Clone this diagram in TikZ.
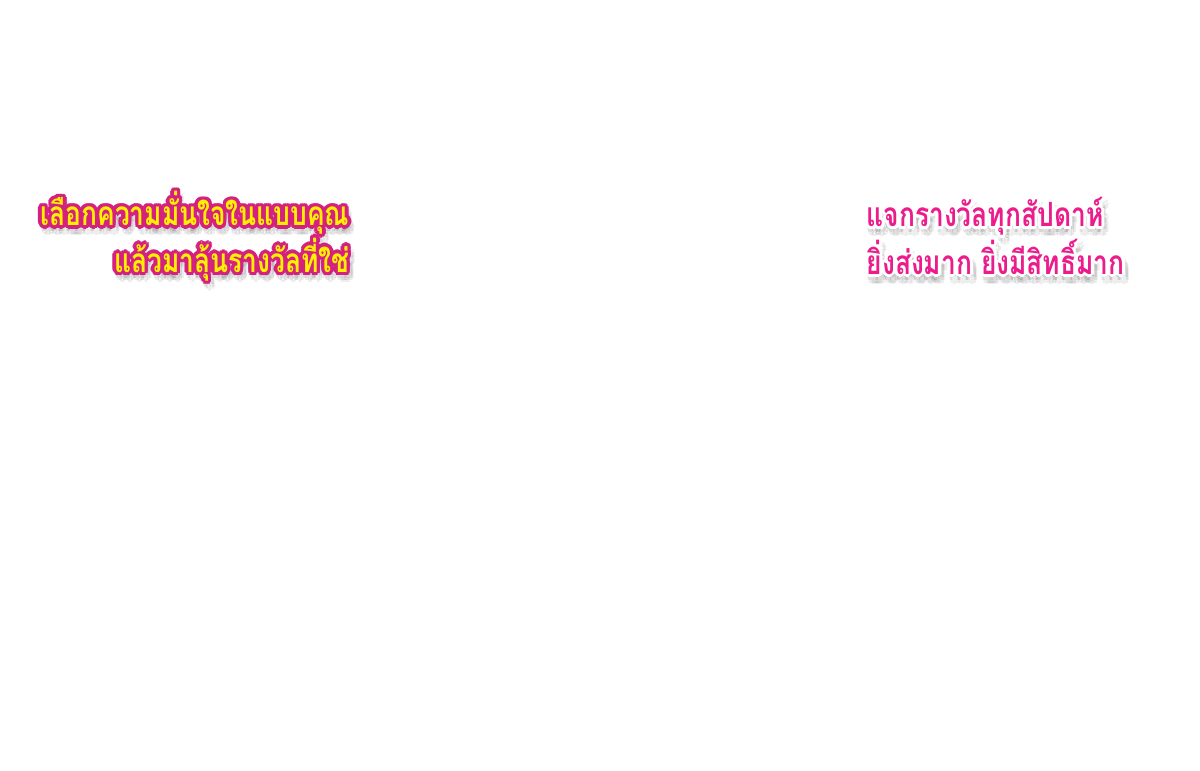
\documentclass[tikz,border=0pt]{standalone}
\usepackage{fontspec}
\newfontfamily\thaifont[Script=Thai,FakeStretch=0.79]{Loma}
\definecolor{promoyellow}{HTML}{FFF000}
\definecolor{promomagenta}{HTML}{D4207F}
\definecolor{promopink}{HTML}{EC1C8C}
\newcommand{\prizeleft}{เลือกความมั่นใจในแบบคุณ\\แล้วมาลุ้นรางวัลที่ใช่}
\newcommand{\prizeright}{แจกรางวัลทุกสัปดาห์\\ยิ่งส่งมาก ยิ่งมีสิทธิ์มาก}
\tikzset{
  slogan/.style={font=\thaifont\bfseries\fontsize{9.5}{9.8}\selectfont, inner sep=0pt},
  haze/.style={slogan, text=black, opacity=0.07},
}
\begin{document}
\begin{tikzpicture}
    \useasboundingbox[fill=white] (0,0) rectangle (12,7.7);
    %slogan sinistra
    \foreach \a in {0,45,...,315}{
        \node[haze, align=right, anchor=east] (lshadow\a) at ([shift={(\a:0.04)}] 3.53,5.28) {\prizeleft};
    }
    \foreach \a in {0,30,...,330}{
        \node[slogan, align=right, anchor=east, text=promomagenta] (lhalo\a) at ([shift={(\a:0.035)}] 3.5,5.34) {\prizeleft};
    }
    \node[slogan, align=right, anchor=east, text=promoyellow] (left) at (3.5,5.34) {\prizeleft};
    %slogan destra
    \foreach \a in {0,45,...,315}{
        \node[haze, align=left, anchor=west] (rshadow\a) at ([shift={(\a:0.04)}] 8.69,5.28) {\prizeright};
    }
    \foreach \a in {0,30,...,330}{
        \node[slogan, align=left, anchor=west, text=white] (rhalo\a) at ([shift={(\a:0.03)}] 8.66,5.34) {\prizeright};
    }
    \node[slogan, align=left, anchor=west, text=promopink] (right) at (8.66,5.34) {\prizeright};
\end{tikzpicture}
\end{document}
